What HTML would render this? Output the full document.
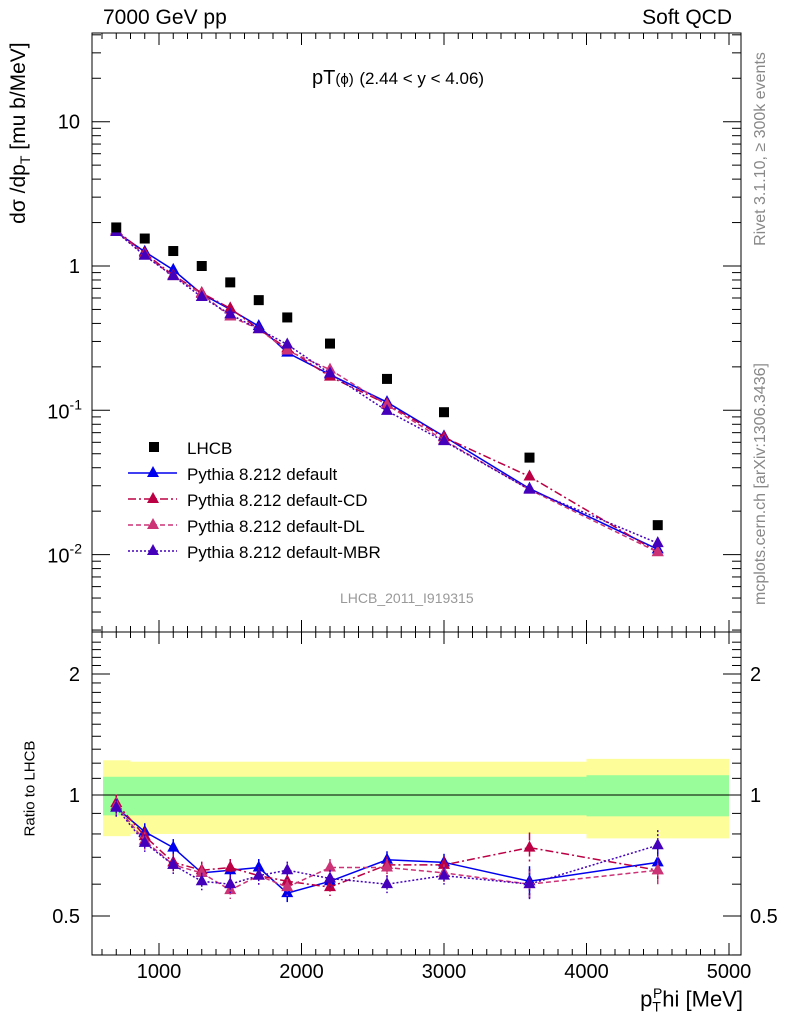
<!DOCTYPE html>
<html><head><meta charset="utf-8"><style>
body{margin:0;background:#fff}
svg{font-family:"Liberation Sans",sans-serif;display:block}
</style></head><body>
<svg id="c" width="786" height="1024" xmlns="http://www.w3.org/2000/svg"></svg>
<script>
const xs=[700,900,1100,1300,1500,1700,1900,2200,2600,3000,3600,4500];
const lhcb=[1.85,1.55,1.27,1.0,0.77,0.58,0.44,0.29,0.165,0.097,0.047,0.016];
const rDefault=[0.93,0.81,0.74,0.64,0.65,0.66,0.57,0.61,0.69,0.68,0.61,0.68];
const rCD=[0.955,0.79,0.68,0.65,0.66,0.63,0.61,0.59,0.67,0.67,0.74,0.65];
const rDL=[0.94,0.77,0.67,0.64,0.58,0.63,0.59,0.66,0.66,0.64,0.60,0.65];
const rMBR=[0.93,0.76,0.67,0.61,0.60,0.63,0.65,0.62,0.60,0.63,0.60,0.75];
const bandEdges=[600,800,1000,1200,1400,1600,1800,2000,2400,2800,3200,4000,5000];
const yellowHi=[1.22,1.21,1.21,1.21,1.21,1.21,1.21,1.21,1.21,1.21,1.21,1.23];
const yellowLo=[0.79,0.80,0.80,0.80,0.80,0.80,0.80,0.80,0.80,0.80,0.80,0.78];
const greenHi=[1.11,1.11,1.11,1.11,1.11,1.11,1.11,1.11,1.11,1.11,1.11,1.12];
const greenLo=[0.89,0.89,0.89,0.89,0.89,0.89,0.89,0.89,0.89,0.89,0.89,0.885];
const xTicks=[1000,2000,3000,4000,5000];
const yTicks=[10,1,0.1,0.01];
const yTickLabels=["10","1","10^-1","10^-2"];
const rTicks=[2,1,0.5];

const svg=document.getElementById('c');const NS='http://www.w3.org/2000/svg';
function el(t,a,txt){const e=document.createElementNS(NS,t);for(const k in a)e.setAttribute(k,a[k]);if(txt!==undefined)e.textContent=txt;svg.appendChild(e);return e;}
const L=92,R=741,T=33,M=632,B=955;
const X=v=>16.5+v*0.1425;
const Y=v=>266-Math.log10(v)*144.3;
const RY=v=>795-Math.log2(v)*121;

for(let i=0;i<yellowHi.length;i++){
 const x0=Math.max(X(bandEdges[i]),103),x1=Math.min(X(bandEdges[i+1]),730);
 const y=el('rect',{x:x0,y:RY(yellowHi[i]),width:x1-x0,height:RY(yellowLo[i])-RY(yellowHi[i]),fill:'#fdfd99'});
 
 const g=el('rect',{x:x0,y:RY(greenHi[i]),width:x1-x0,height:RY(greenLo[i])-RY(greenHi[i]),fill:'#99fd99'});
 
}
el('line',{x1:L,x2:R,y1:RY(1),y2:RY(1),stroke:'#000','stroke-width':1});

const f1=el('rect',{x:L,y:T,width:R-L,height:M-T,fill:'none',stroke:'#000'});

const f2=el('rect',{x:L,y:M,width:R-L,height:B-M,fill:'none',stroke:'#000'});


for(let v=600;v<=5000;v+=100){const x=X(v);const big=v%1000===0;const len=big?12:6;
 for(const [a,b] of [[T,1],[M,-1],[M,1],[B,-1]]) el('line',{x1:x,x2:x,y1:a,y2:a+b*len,stroke:'#000'});}
xTicks.forEach(v=>{const t=el('text',{x:X(v),y:978,'font-size':20,'text-anchor':'middle'},String(v));});

for(let d=-3;d<=1;d++)for(let m=1;m<10;m++){const v=m*Math.pow(10,d);const y=Y(v);if(y<T||y>M)continue;const len=m===1?18:9;
 el('line',{x1:L,x2:L+len,y1:y,y2:y,stroke:'#000'});el('line',{x1:R,x2:R-len,y1:y,y2:y,stroke:'#000'});}
yTicks.forEach((v,i)=>{const lab=yTickLabels[i];let t;
 if(lab.includes('^')){const [b,e]=lab.split('^');t=el('text',{x:82,y:Y(v)+8,'font-size':20,'text-anchor':'end'});
  const s1=document.createElementNS(NS,'tspan');s1.textContent=b;t.appendChild(s1);
  const s2=document.createElementNS(NS,'tspan');s2.textContent=e;s2.setAttribute('font-size','14');s2.setAttribute('dy','-9');t.appendChild(s2);}
 else t=el('text',{x:80,y:Y(v)+7,'font-size':20,'text-anchor':'end'},lab);
 });

for(let v=0.4;v<=2.5;v+=0.1){const y=RY(v);if(y<M||y>B)continue;const big=[0.5,1,2].some(q=>Math.abs(q-v)<1e-6);const len=big?18:9;
 el('line',{x1:L,x2:L+len,y1:y,y2:y,stroke:'#000'});el('line',{x1:R,x2:R-len,y1:y,y2:y,stroke:'#000'});}
rTicks.forEach(v=>{const a=el('text',{x:80,y:RY(v)+7,'font-size':20,'text-anchor':'end'},String(v));
 const b=el('text',{x:750,y:RY(v)+7,'font-size':20},String(v));});

const series=[
 {name:'default',r:rDefault,c:'#0000ee',dash:''},
 {name:'cd',r:rCD,c:'#bb0044',dash:'8 3 2 3'},
 {name:'dl',r:rDL,c:'#cc3377',dash:'5 3'},
 {name:'mbr',r:rMBR,c:'#4400bb',dash:'2 2'}];
function tri(x,y,c,n){const p=el('polygon',{points:`${x},${y-7} ${x-6},${y+4} ${x+6},${y+4}`,fill:c});}
series.forEach(s=>{
 const mc=xs.map((x,i)=>lhcb[i]*s.r[i]);
 const l1=el('polyline',{points:xs.map((x,i)=>X(x)+','+Y(mc[i])).join(' '),fill:'none',stroke:s.c,'stroke-width':1.5,'stroke-dasharray':s.dash});
 
 const l2=el('polyline',{points:xs.map((x,i)=>X(x)+','+RY(s.r[i])).join(' '),fill:'none',stroke:s.c,'stroke-width':1.5,'stroke-dasharray':s.dash});
 
 xs.forEach((x,i)=>{tri(X(x),Y(mc[i]),s.c,'point-'+s.name);
  const e=i>=10?0.09:0.05;
  el('line',{x1:X(x),x2:X(x),y1:RY(s.r[i]*(1+e)),y2:RY(s.r[i]*(1-e)),stroke:s.c,'stroke-width':1.5,'stroke-dasharray':s.dash});
  tri(X(x),RY(s.r[i]),s.c,'ratio-point-'+s.name);});
});
xs.forEach((x,i)=>{const r=el('rect',{x:X(x)-5,y:Y(lhcb[i])-5,width:10,height:10,fill:'#000'});});

const lg=[['LHCB','sq','#000',''],['Pythia 8.212 default','t','#0000ee',''],['Pythia 8.212 default-CD','t','#bb0044','8 3 2 3'],['Pythia 8.212 default-DL','t','#cc3377','5 3'],['Pythia 8.212 default-MBR','t','#4400bb','2 2']];
lg.forEach((e,i)=>{const y=447+i*26;
 if(e[1]==='sq'){el('rect',{x:149,y:y-5,width:10,height:10,fill:'#000'});}
 else{el('line',{x1:128,x2:177,y1:y,y2:y,stroke:e[2],'stroke-width':1.5,'stroke-dasharray':e[3]});tri(153,y,e[2],'legend-marker');}
 const t=el('text',{x:187,y:y+7,'font-size':17},e[0]);});
</script>
<div style="position:absolute;left:0;top:0;width:786px;height:1024px;pointer-events:none;font-family:'Liberation Sans',sans-serif">
<div style="position:absolute;left:103px;top:6px;font-size:21px">7000 GeV pp</div>
<div style="position:absolute;right:54px;top:6px;font-size:21px">Soft QCD</div>
<div style="position:absolute;left:312px;top:67px;font-size:20px">pT<span style="font-size:15px">(ϕ)</span> <span style="font-size:17px">(2.44 &lt; y &lt; 4.06)</span></div>
<div style="position:absolute;left:340px;top:590px;font-size:14px;color:#999">LHCB_2011_I919315</div>
<div style="position:absolute;left:-100px;top:120px;width:240px;text-align:center;transform:rotate(-90deg);font-size:21px;white-space:nowrap">dσ /dp<sub style="font-size:14px">T</sub> [mu b/MeV]</div>
<div style="position:absolute;left:-45px;top:780px;width:150px;text-align:center;transform:rotate(-90deg);font-size:15px;white-space:nowrap">Ratio to LHCB</div>
<div style="position:absolute;right:43px;top:985px;font-size:22px">p<sub style="font-size:14px">T</sub><sup style="font-size:14px;margin-left:-8px">P</sup>hi [MeV]</div>
<div style="position:absolute;left:641px;top:140px;width:240px;text-align:center;transform:rotate(-90deg);font-size:16px;color:#888;white-space:nowrap">Rivet 3.1.10, ≥ 300k events</div>
<div style="position:absolute;left:616px;top:475px;width:290px;text-align:center;transform:rotate(-90deg);font-size:16px;color:#888;white-space:nowrap">mcplots.cern.ch [arXiv:1306.3436]</div>
</div>
</body></html>
